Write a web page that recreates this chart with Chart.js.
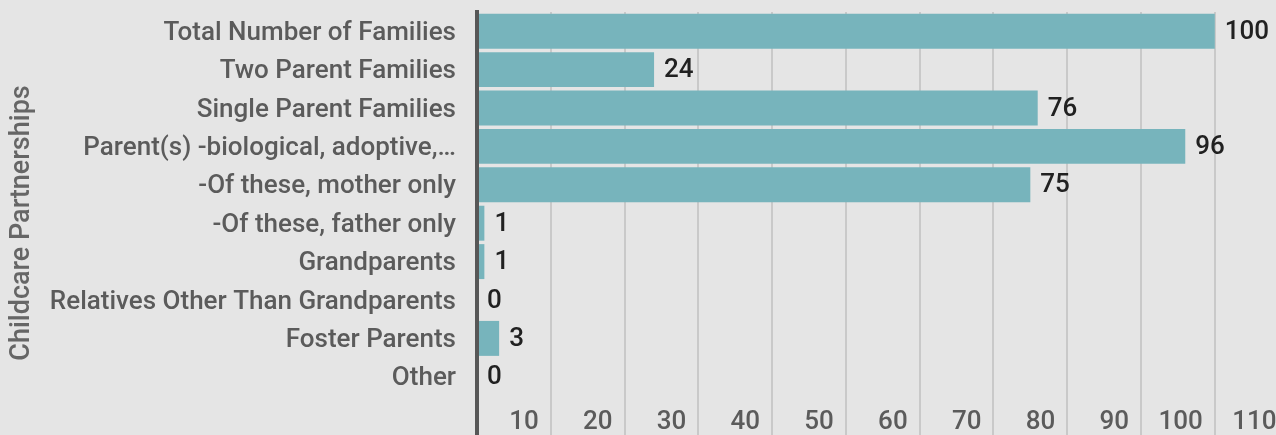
<!DOCTYPE html>
<html>
<head>
<meta charset="utf-8">
<script src="https://cdn.jsdelivr.net/npm/chart.js@4/dist/chart.umd.min.js"></script>
<style>
  html, body { margin: 0; padding: 0; background: #e5e5e5; overflow: hidden; }
  #wrap { position: relative; width: 1276px; height: 435px; }
</style>
</head>
<body>
<div id="wrap"><canvas id="chart"></canvas></div>
<script>
const categories = [
  'Total Number of Families',
  'Two Parent Families',
  'Single Parent Families',
  'Parent(s) -biological, adoptive,…',
  '-Of these, mother only',
  '-Of these, father only',
  'Grandparents',
  'Relatives Other Than Grandparents',
  'Foster Parents',
  'Other'
];
const families = [100, 24, 76, 96, 75, 1, 1, 0, 3, 0];
const xTicks = [0, 10, 20, 30, 40, 50, 60, 70, 80, 90, 100, 110];
const axisTitle = 'Childcare Partnerships';

const FONT = 'Roboto, "Noto Sans", sans-serif';

// value labels at the end of each bar + rotated axis title
const barLabels = {
  id: 'barLabels',
  afterDatasetsDraw(chart) {
    const ctx = chart.ctx;
    const meta = chart.getDatasetMeta(0);
    ctx.save();
    ctx.font = '500 26px ' + FONT;
    ctx.fillStyle = '#212121';
    ctx.textAlign = 'left';
    ctx.textBaseline = 'middle';
    meta.data.forEach((bar, i) => {
      ctx.fillText(String(families[i]), bar.x + 10, bar.y + 1);
    });
    ctx.translate(22, 223);
    ctx.rotate(-Math.PI / 2);
    ctx.textAlign = 'center';
    ctx.font = '500 27px ' + FONT;
    ctx.fillStyle = '#666666';
    ctx.fillText(axisTitle, 0, 0);
    ctx.restore();
  }
};

new Chart(document.getElementById('chart'), {
  type: 'bar',
  data: {
    labels: categories,
    datasets: [{
      data: families,
      backgroundColor: '#77b4bc',
      borderWidth: 0,
      barPercentage: 0.91,
      categoryPercentage: 1
    }]
  },
  options: {
    indexAxis: 'y',
    responsive: true,
    maintainAspectRatio: false,
    animation: false,
    layout: { padding: { top: 12, left: 0, right: 0, bottom: 0 } },
    plugins: {
      legend: { display: false },
      tooltip: { enabled: false }
    },
    scales: {
      x: {
        type: 'linear',
        min: 0,
        max: 108.3,
        afterBuildTicks: s => { s.ticks = xTicks.map(v => ({ value: v })); },
        afterFit: s => { s.height = 39; s.paddingLeft = 0; s.paddingRight = 0; },
        border: { display: false },
        grid: {
          drawTicks: true,
          tickLength: 39,
          color: c => c.tick && c.tick.value === 0 ? '#575757' : '#c9c9c9',
          lineWidth: c => c.tick && c.tick.value === 0 ? 4 : 2
        },
        ticks: {
          autoSkip: false,
          maxRotation: 0,
          align: 'end',
          labelOffset: -12,
          padding: -28,
          color: '#5b5b5b',
          font: { family: FONT, size: 26, weight: '500' },
          callback: v => v === 0 ? '' : String(v)
        }
      },
      y: {
        afterFit: s => { s.width = 477; s.paddingTop = 0; s.paddingBottom = 0; },
        border: { display: true, color: '#575757', width: 4 },
        grid: { display: false, drawTicks: false },
        ticks: {
          padding: 21,
          labelOffset: 2,
          color: '#5b5b5b',
          font: { family: FONT, size: 26, weight: '500' }
        }
      }
    }
  },
  plugins: [barLabels]
});
</script>
</body>
</html>
